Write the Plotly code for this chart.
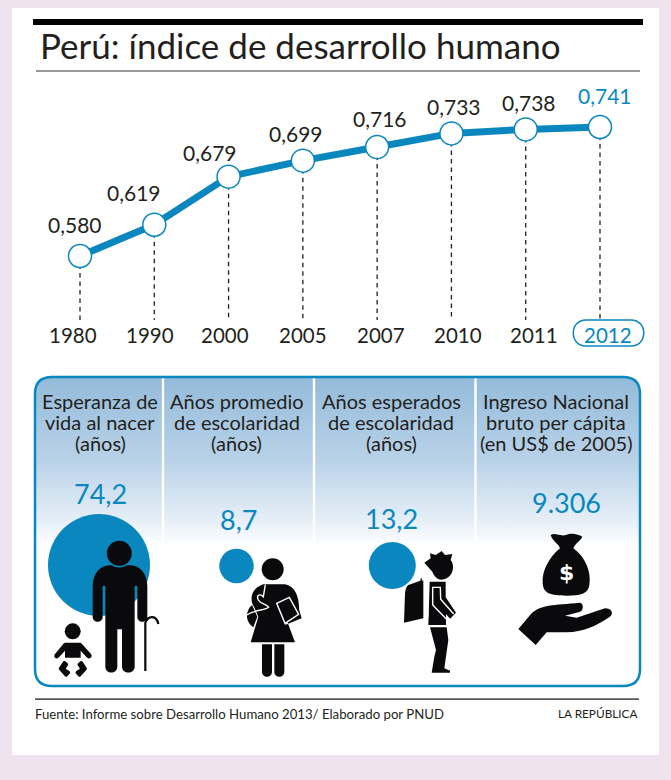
import re
import numpy as np
import plotly.graph_objects as go

# chart data
years = ['1980', '1990', '2000', '2005', '2007', '2010', '2011', '2012']
idh_values = [0.580, 0.619, 0.679, 0.699, 0.716, 0.733, 0.738, 0.741]

panel_titles = [
  ['Esperanza de', 'vida al nacer', '(años)'],
  ['Años promedio', 'de escolaridad', '(años)'],
  ['Años esperados', 'de escolaridad', '(años)'],
  ['Ingreso Nacional', 'bruto per cápita', '(en US$ de 2005)'],
]
panel_values = ['74,2', '8,7', '13,2', '9.306']

title_text = 'Perú: índice de desarrollo humano'
source_text = 'Fuente: Informe sobre Desarrollo Humano 2013/ Elaborado por PNUD'
credit_text = 'LA REPÚBLICA'

# layout, in page pixels
W, H = 671, 780
BLUE = '#0a87bf'
INK = '#231f20'
FONT = 'Lato'

x_first, x_last = 80, 600
y_first, y_last = 256, 127
dash_bottom = 320

value_label_x = [75, 134, 210, 296, 380, 454, 529, 605]
value_label_y = [224, 192, 152, 133, 118, 106, 102, 95]
year_label_x = [73, 150, 225, 303, 381, 458, 534, 608]

title_center_x = [100, 236.5, 391, 555.5]
title_line_y = [401, 421.5, 442.5]
value_center_x = [100.5, 238, 391.5, 566]
value_center_y = [493, 519.5, 518, 502]
divider_x = [163, 314, 475.5]

bubble_x = [99, 236.5, 392.3]
bubble_y = [565, 566, 565.5]
bubble_d = [102, 34.5, 47]


def icon(path, ox, oy):
  '''los trazos van en coordenadas del zoom 3x, aqui pasan a pixeles'''
  return re.sub(r'(-?[\d.]+),(-?[\d.]+)',
                lambda m: f'{float(m[1]) / 3 + ox:.2f},{float(m[2]) / 3 + oy:.2f}', path)


def solid(path, ox, oy, color='#0a0a0c'):
  return dict(type='path', path=icon(path, ox, oy), xref='x2', yref='y2', fillcolor=color,
              line=dict(width=0), layer='above')


def stroke(path, ox, oy, color='white', width=1.4):
  return dict(type='path', path=icon(path, ox, oy), xref='x2', yref='y2',
              line=dict(color=color, width=width), layer='above')


def disc(cx, cy, r, color='#0a0a0c'):
  return dict(type='circle', x0=cx - r, x1=cx + r, y0=cy - r, y1=cy + r, xref='x2', yref='y2',
              fillcolor=color, line=dict(width=0), layer='above')


def rect(x0, y0, x1, y1, color, layer='above'):
  return dict(type='rect', x0=x0, x1=x1, y0=y0, y1=y1, xref='x2', yref='y2',
              fillcolor=color, line=dict(width=0), layer=layer)


def label(text, x, y, size, color=INK, anchor='center'):
  return dict(text=text, x=x, y=y, xref='x2', yref='y2', xanchor=anchor, yanchor='middle',
              showarrow=False, font=dict(family=FONT, size=size, color=color))


# linear value axis and category axis, fitted so the marks land on the page pixels
px_per_unit = (y_first - y_last) / (idh_values[-1] - idh_values[0])
px_per_cat = (x_last - x_first) / (len(years) - 1)
y_top = idh_values[0] + y_first / px_per_unit
y_bot = idh_values[0] - (H - y_first) / px_per_unit
x_lo = -x_first / px_per_cat
x_hi = (W - x_first) / px_per_cat
dash_value = idh_values[0] - (dash_bottom - y_first) / px_per_unit

fig = go.Figure()

# degradado del panel, con las esquinas de arriba redondeadas
corner = np.linspace(0, np.pi / 2, 12)
pl, pr, pt, pb, rad = 35, 640, 377, 546, 17
grad_x = list(pl + rad - rad * np.cos(corner)) + list(pr - rad + rad * np.sin(corner)) + [pr, pl, pl]
grad_y = list(pt + rad - rad * np.sin(corner)) + list(pt + rad - rad * np.cos(corner)) + [pb, pb, pt + rad]
fig.add_trace(go.Scatter(
  x=grad_x, y=grad_y, xaxis='x2', yaxis='y2', mode='none', fill='toself',
  fillgradient=dict(type='vertical', start=pt, stop=pb,
                    colorscale=[[0, '#93bbda'], [0.5, '#bad2e8'], [0.85, '#e6eff7'], [1, 'white']]),
  hoverinfo='skip', showlegend=False,
))
fig.add_trace(go.Scatter(
  x=bubble_x, y=bubble_y, xaxis='x2', yaxis='y2', mode='markers',
  marker=dict(size=bubble_d, sizemode='diameter', color=BLUE, opacity=1, line=dict(width=0)),
  hoverinfo='skip', showlegend=False, cliponaxis=False,
))

# guias punteadas, debajo de la linea
for year, value in zip(years, idh_values):
  fig.add_trace(go.Scatter(
    x=[year, year], y=[value, dash_value], mode='lines',
    line=dict(color=INK, width=1.3, dash='4.5px,4px'),
    hoverinfo='skip', showlegend=False, cliponaxis=False,
  ))

# linea principal
fig.add_trace(go.Scatter(
  x=years, y=idh_values, mode='lines+markers',
  line=dict(color=BLUE, width=7),
  marker=dict(size=23, color='white', line=dict(color=BLUE, width=1.5)),
  hoverinfo='skip', showlegend=False, cliponaxis=False,
))

shapes = [
  dict(type='rect', xref='paper', yref='paper', x0=12 / W, x1=659 / W, y0=1 - 755 / H, y1=1 - 8 / H,
       fillcolor='white', line=dict(width=0), layer='below'),
  rect(33, 19, 643, 25, 'black'),
  rect(36, 70.5, 640, 71.5, '#333333'),
  rect(35, 698.3, 639, 700, '#58595b'),
]

# pastilla del ultimo año
shapes.append(dict(type='path', xref='x2', yref='y2', layer='above', line=dict(color=BLUE, width=1.5),
                   path='M 586,320 L 631,320 C 648,320 648,346 631,346 L 586,346 C 569,346 569,320 586,320 Z'))

for dx in divider_x:
  shapes.append(rect(dx - 1.2, pt + 1, dx + 1.2, 542, 'white'))

# borde del panel
shapes.append(dict(type='path', xref='x2', yref='y2', layer='above', line=dict(color=BLUE, width=2.5),
                   path=f'M {pl},{pt + rad} Q {pl},{pt} {pl + rad},{pt} L {pr - rad},{pt} Q {pr},{pt} {pr},{pt + rad} '
                        f'L {pr},669 Q {pr},686 {pr - rad},686 L {pl + rad},686 Q {pl},686 {pl},669 Z'))

# anciano y bebe
ox, oy = 40, 500
shapes += [
  solid('M 158,260 C 158,222 178,195 215,195 L 265,195 C 302,195 322,222 322,260 L 322,350 C 322,370 292,370 292,350 '
        'L 292,258 L 284,258 L 284,500 C 284,523 246,523 246,500 L 246,388 L 232,388 L 232,500 C 232,523 196,523 196,500 '
        'L 196,258 L 188,258 L 188,350 C 188,370 158,370 158,350 Z', ox, oy),
  disc(119.3, 553.5, 14, BLUE),
  disc(119.3, 553.3, 12.5),
  stroke('M 316,513 L 316,368 C 325,345 350,345 355,372', ox, oy, '#0a0a0c', 2.2),
  disc(72.7, 631.3, 8),
  solid('M 78,428 L 118,428 C 122,428 125,430 128,434 L 153,462 C 160,472 146,480 140,472 L 122,452 L 122,473 L 75,473 '
        'L 75,452 L 57,472 C 50,480 38,472 45,462 L 68,434 C 71,430 74,428 78,428 Z', ox, oy),
  solid('M 70,484 L 57,503 Q 55,507 58,510 L 75,529 Q 79,532 82,529 L 90,520 Q 92,516 88,513 L 77,506 L 84,496 Q 86,492 82,489 L 76,484 Q 73,482 70,484 Z', ox, oy),
  solid('M 127,484 L 140,503 Q 142,507 139,510 L 122,529 Q 118,532 115,529 L 107,520 Q 105,516 109,513 L 120,506 L 113,496 Q 111,492 115,489 L 121,484 Q 124,482 127,484 Z', ox, oy),
]

# mujer con libro
ox, oy = 230, 550
shapes += [
  disc(272.7, 569.3, 11),
  solid('M 66,165 C 48,180 42,212 70,232 L 82,200 Z', ox, oy),
  solid('M 100,103 L 165,103 C 195,108 208,140 207,178 L 215,205 L 165,225 L 172,215 L 195,277 L 62,277 L 85,200 '
        'L 72,170 C 58,150 62,115 100,103 Z', ox, oy),
  solid('M 96,283 L 126,283 L 126,365 C 126,385 96,385 96,365 Z', ox, oy),
  solid('M 133,283 L 163,283 L 163,365 C 163,385 133,385 133,365 Z', ox, oy),
  stroke('M 106,104 L 100,140 C 90,130 78,135 85,150 C 93,163 110,162 116,172 C 105,182 75,178 50,195', ox, oy),
  stroke('M 140,160 L 178,142 L 206,193 L 165,220 Z', ox, oy),
]

# escolar con mochila
ox, oy = 395, 540
shapes += [
  solid('M 88,68 L 107,55 L 105,40 L 122,45 L 140,33 L 150,45 L 172,42 L 167,60 C 180,75 175,105 155,115 '
        'C 135,125 120,115 112,95 Z', ox, oy),
  solid('M 40,135 L 76,122 L 78,112 L 82,122 L 85,122 L 85,235 L 27,248 L 30,160 Q 32,140 40,135 Z', ox, oy),
  solid('M 104,125 L 152,125 L 152,172 L 183,218 L 165,236 L 153,222 L 153,255 L 100,255 Z', ox, oy),
  solid('M 105,262 L 155,262 L 160,300 L 148,385 L 165,392 L 165,398 L 110,398 L 118,350 L 123,330 Z', ox, oy),
  stroke('M 94,138 L 94,232', ox, oy, 'white', 4.2),
  stroke('M 113,195 L 113,142 L 136,142 L 137,178 L 176,222', ox, oy),
  stroke('M 113,195 L 160,243', ox, oy),
]

# bolsa de dinero y mano
ox, oy = 510, 525
shapes += [
  solid('M 122,30 C 135,22 150,35 168,30 C 185,22 205,28 217,35 C 210,50 195,55 190,70 C 225,95 245,140 238,180 '
        'C 235,205 215,212 170,212 C 120,212 100,205 98,175 C 95,135 120,95 150,70 C 145,55 128,50 122,30 Z', ox, oy),
  solid('M 25,312 L 65,265 C 90,240 130,240 210,233 C 222,235 222,260 205,262 L 165,272 L 200,278 L 285,250 '
        'C 305,250 312,265 300,275 C 255,305 220,320 170,322 L 110,322 L 77,360 Z', ox, oy),
]

annotations = [label(title_text, 38, 45, 35, anchor='left')]

for i, value in enumerate(idh_values):
  color = BLUE if i == len(idh_values) - 1 else INK
  annotations.append(label(f'{value:.3f}'.replace('.', ','), value_label_x[i], value_label_y[i], 21, color))
  annotations.append(label(years[i], year_label_x[i], 335, 20.5, color))

for cx, lines in zip(title_center_x, panel_titles):
  for ly, line in zip(title_line_y, lines):
    annotations.append(label(line, cx, ly, 20))

for cx, cy, text in zip(value_center_x, value_center_y, panel_values):
  annotations.append(label(text, cx, cy, 27, BLUE))

annotations.append(dict(text='<b>$</b>', x=566.7, y=572.5, xref='x2', yref='y2', showarrow=False,
                        font=dict(family='DejaVu Sans', size=22, color='white')))
annotations.append(label(source_text, 33, 714, 13.2, anchor='left'))
annotations.append(label(credit_text, 640, 713.5, 11.8, anchor='right'))

fig.update_layout(
  width=W, height=H, margin=dict(l=0, r=0, t=0, b=0, pad=0),
  paper_bgcolor='#ede2ee', plot_bgcolor='rgba(0,0,0,0)',
  hovermode=False, showlegend=False,
  shapes=shapes, annotations=annotations,
  xaxis=dict(type='category', categoryorder='array', categoryarray=years, range=[x_lo, x_hi],
             domain=[0, 1], visible=False, fixedrange=True),
  yaxis=dict(range=[y_bot, y_top], domain=[0, 1], visible=False, fixedrange=True),
  xaxis2=dict(range=[0, W], overlaying='x', anchor='y2', visible=False, fixedrange=True),
  yaxis2=dict(range=[H, 0], overlaying='y', anchor='x2', visible=False, fixedrange=True),
)

# la pagina trae margen de 8px en body; se quita para que el grafico llene la ventana
fig.write_html('out.html', config={'displayModeBar': False},
               post_script="document.body.style.margin='0';document.documentElement.style.overflow='hidden';")
